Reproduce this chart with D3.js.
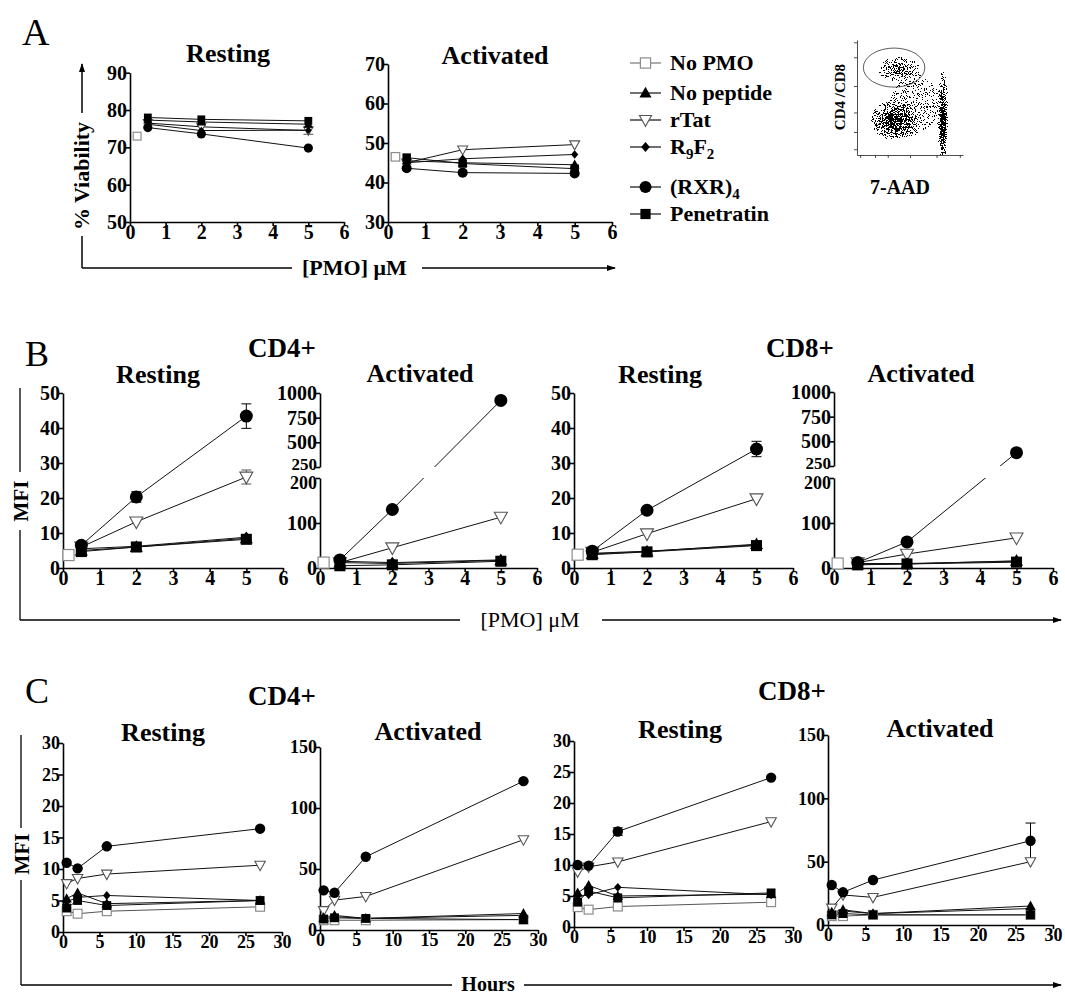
<!DOCTYPE html>
<meta charset="utf-8">
<script src="https://cdn.jsdelivr.net/npm/d3@7"></script>
<style>
  body { margin: 0; background: #fff; }
</style>
<body>
<script>

// ---- data -------------------------------------------------------------
// series keys (legend order) and labels ([text, subscript?] parts)
var legendKeys = ["noPMO", "noPep", "rTat", "r9f2", "rxr", "pen"];
var legendLabels = {
  noPMO: [["No PMO", 0]],
  noPep: [["No peptide", 0]],
  rTat:  [["rTat", 0]],
  r9f2:  [["R", 0], ["9", 1], ["F", 0], ["2", 1]],
  rxr:   [["(RXR)", 0], ["4", 1]],
  pen:   [["Penetratin", 0]]
};
// draw order of markers (last on top)
var drawKeys = ["noPMO", "rTat", "noPep", "r9f2", "rxr", "pen"];

// A: % viability vs [PMO] uM
var aX = [0.5, 2, 5];
var aX0 = [0.2];
var aRest = {noPMO: [73], noPep: [77.3, 76.8, 76.2], rTat: [76.5, 75.5, 74.5],
             r9f2: [76.2, 74.5, 74.6], rxr: [75.3, 73.6, 69.8], pen: [78, 77.5, 77.1]};
var aRestErr = {rTat: [0, 0, 1]};
var aAct = {noPMO: [46.5], noPep: [45.5, 45, 44.5], rTat: [45, 48.3, 49.6],
            r9f2: [45, 46, 47.1], rxr: [43.6, 42.5, 42.3], pen: [46.3, 44.8, 43.5]};

// B: MFI vs [PMO] uM
var bX = [0.5, 2, 5];
var bX0 = [0.15];
var bCD4Rest = {noPMO: [3.7], noPep: [5, 6, 8.5], rTat: [6, 13.2, 26],
                r9f2: [5.5, 6.2, 8.8], rxr: [6.5, 20.3, 43.4], pen: [4.7, 6, 8.2]};
var bCD4RestErr = {rxr: [0, 1.5, 3.5], rTat: [0, 0, 2]};
var bCD4ActX = [0.55, 2, 5];
var bCD4Act = {noPMO: [12], noPep: [12, 10, 17], rTat: [12, 45, 113],
               r9f2: [15, 12, 18], rxr: [18, 130, 925], pen: [5, 7, 15]};
var bCD8Rest = {noPMO: [3.8], noPep: [4, 4.7, 6.8], rTat: [4.5, 9.8, 19.8],
                r9f2: [4.2, 4.8, 6.6], rxr: [4.8, 16.5, 34], pen: [3.8, 4.6, 6.4]};
var bCD8RestErr = {rxr: [0, 0, 2.2]};
var bCD8ActX = [0.65, 2, 5];
var bCD8Act = {noPMO: [10], noPep: [8, 9, 16], rTat: [12, 31, 67],
               r9f2: [10, 10, 15], rxr: [12, 58, 385], pen: [7, 9, 13]};

// C: MFI vs hours
var cX = [0.5, 2, 6, 27];
var cCD4ActX = [0.5, 2, 6.3, 28];
var cCD4Rest = {noPMO: [3.3, 2.9, 3.3, 4], noPep: [5.3, 6.2, 4.5, 5], rTat: [7.7, 8.5, 9.2, 10.6],
                r9f2: [4.8, 5.5, 5.8, 5], rxr: [11, 10.1, 13.6, 16.4], pen: [3.8, 5, 4.2, 5]};
var cCD4Act = {noPMO: [8, 8, 8, 8.5], noPep: [10, 12, 9.5, 13.5], rTat: [16, 24.5, 27.5, 74],
               r9f2: [9, 11, 9.5, 12], rxr: [32.5, 30.5, 60, 122], pen: [9, 10, 9.5, 8.5]};
var cCD8Rest = {noPMO: [3.2, 2.8, 3.3, 4], noPep: [5.5, 6.7, 5, 5.3], rTat: [8.9, 9.7, 10.5, 17],
                r9f2: [5, 5.2, 6.4, 5.2], rxr: [10, 9.9, 15.4, 24.1], pen: [4, 5.8, 4.7, 5.5]};
var cCD8RestErr = {rxr: [0, 0, 0.6, 0]};
var cCD8Act = {noPMO: [7, 7, 8, 8], noPep: [10, 12, 9, 15], rTat: [13.4, 23.7, 21.8, 50],
               r9f2: [8, 11, 9, 13], rxr: [31.6, 25.8, 35.5, 66.5], pen: [8, 9, 8, 8]};
var cCD8ActErr = {rxr: [0, 0, 0, 14]};

// flow cytometry inset (gate + cell populations, in 0..1 plot units)
var flowGate = {cx: 0.35, cy: 0.76, rx: 0.29, ry: 0.17};
var flowPops = [
  {cx: 0.55, cy: 0.45, rx: 0.6,  ry: 0.65, dens: 0.2},    // sparse events
  {cx: 0.39, cy: 0.75, rx: 0.22, ry: 0.11, dens: 0.6},    // gated live CD4/CD8
  {cx: 0.37, cy: 0.3,  rx: 0.26, ry: 0.18, dens: 1},      // live, CD- cells
  {cx: 0.81, cy: 0.33, rx: 0.055, ry: 0.42, dens: 1},     // 7-AAD+ dead cells
  {cx: 0.81, cy: 0.25, rx: 0.035, ry: 0.3,  dens: 1}      // dense core of the dead cells
];
var flowTickX = [0.03, 0.17, 0.29, 0.5, 0.75, 0.97];
var flowTickY = [0.05, 0.2, 0.37, 0.6, 0.85, 0.98];

// ---- layout -----------------------------------------------------------
var svg = d3.select("body").append("svg")
    .attr("width", 1065).attr("height", 996)
    .style("font-family", "'Liberation Serif','Times New Roman',serif");
var defs = svg.append("defs");

defs.append("marker").attr("id", "arr")
    .attr("markerUnits", "userSpaceOnUse").attr("markerWidth", 9).attr("markerHeight", 6)
    .attr("refX", 8).attr("refY", 3).attr("orient", "auto")
  .append("path").attr("d", "M0,0 L9,3 L0,6 z").attr("fill", "#000");

function label(x, y, s, size, bold, anchor) {
  return svg.append("text").attr("x", x).attr("y", y).text(s)
    .attr("font-size", size).attr("font-weight", bold ? "bold" : "normal")
    .attr("text-anchor", anchor || "middle").attr("fill", "#000");
}

function drawMarker(g, k, cx, cy, s) {
  if (k === "rxr") {
    g.append("circle").attr("cx", cx).attr("cy", cy).attr("r", s).attr("fill", "#000");
    return;
  }
  if (k === "pen" || k === "noPMO") {
    var h = s * 0.85;
    var r = g.append("rect").attr("x", cx - h).attr("y", cy - h).attr("width", 2 * h).attr("height", 2 * h);
    if (k === "pen") r.attr("fill", "#000");
    else r.attr("fill", "#fff").attr("stroke", "#8c8c8c").attr("stroke-width", 1.2);
    return;
  }
  var pts;
  if (k === "noPep") pts = [[0, -1.05 * s], [s, 0.75 * s], [-s, 0.75 * s]];
  if (k === "rTat") pts = [[-s, -0.75 * s], [s, -0.75 * s], [0, 1.05 * s]];
  if (k === "r9f2") pts = [[0, -0.85 * s], [0.72 * s, 0], [0, 0.85 * s], [-0.72 * s, 0]];
  var p = g.append("polygon").attr("points", pts.map(function(d) { return (cx + d[0]) + "," + (cy + d[1]); }).join(" "));
  if (k === "rTat") p.attr("fill", "#fff").attr("stroke", "#555").attr("stroke-width", 1.1);
  else p.attr("fill", "#000");
}

var clipN = 0;
function panel(p) {
  var g = svg.append("g");
  var x = d3.scaleLinear().domain(p.xDom).range([p.left, p.right]);
  var y, lo, hi;
  if (p.brk) {
    lo = d3.scaleLinear().domain([0, 200]).range([p.bottom, p.brk[0]]);
    hi = d3.scaleLinear().domain([250, 1000]).range([p.brk[1], p.top]);
    y = function(v) { return v <= 225 ? lo(v) : hi(v); };
  } else {
    y = d3.scaleLinear().domain(p.yDom).range([p.bottom, p.top]);
  }

  function styleAxis(a) {
    a.attr("font-family", null).attr("font-size", p.fs).attr("font-weight", "bold");
    a.selectAll("path, line").attr("stroke", "#000").attr("stroke-width", 1.6);
    a.selectAll("text").attr("fill", "#000");
    return a;
  }
  var fmt = d3.format("d");
  styleAxis(g.append("g").attr("transform", "translate(0," + p.bottom + ")")
    .call(d3.axisBottom(x).tickValues(p.xTicks).tickSize(4).tickSizeOuter(0).tickPadding(-1).tickFormat(fmt)));
  if (p.brk) {
    var la = styleAxis(g.append("g").attr("transform", "translate(" + p.left + ",0)")
      .call(d3.axisLeft(lo).tickValues([0, 100, 200]).tickSize(4).tickSizeOuter(0).tickPadding(-1).tickFormat(fmt)));
    var ha = styleAxis(g.append("g").attr("transform", "translate(" + p.left + ",0)")
      .call(d3.axisLeft(hi).tickValues([250, 500, 750, 1000]).tickSize(4).tickSizeOuter(0).tickPadding(-1).tickFormat(fmt)));
    // the 200 / 250 labels crowd each other at the break: smaller and nudged apart
    la.selectAll(".tick").filter(function(d) { return d === 200; }).select("text")
      .attr("font-size", 18).attr("dy", "0.6em");
    ha.selectAll(".tick").filter(function(d) { return d === 250; }).select("text")
      .attr("font-size", 17).attr("dy", "0.12em");
  } else {
    styleAxis(g.append("g").attr("transform", "translate(" + p.left + ",0)")
      .call(d3.axisLeft(y).tickValues(p.yTicks).tickSize(4).tickSizeOuter(0).tickPadding(-1).tickFormat(fmt)));
  }

  // series lines
  var lines = g.append("g");
  if (p.brk) {
    var id = "clip" + (clipN++);
    var cp = defs.append("clipPath").attr("id", id);
    cp.append("rect").attr("x", p.left - 20).attr("y", p.top - 20)
      .attr("width", p.right - p.left + 40).attr("height", p.brk[1] - p.top + 20);
    cp.append("rect").attr("x", p.left - 20).attr("y", p.brk[0])
      .attr("width", p.right - p.left + 40).attr("height", p.bottom - p.brk[0] + 20);
    lines.attr("clip-path", "url(#" + id + ")");
  }
  function xsFor(k) { return (k === "noPMO" && p.x0) ? p.x0 : p.xs; }
  drawKeys.forEach(function(k) {
    var ys = p.d[k];
    if (!ys || ys.length < 2) return;
    var xs = xsFor(k);
    var pts = ys.map(function(v, i) { return [x(xs[i]), y(v)]; });
    lines.append("path").attr("d", d3.line()(pts))
      .attr("fill", "none").attr("stroke", k === "noPMO" ? "#555" : "#111").attr("stroke-width", 1);
  });

  // error bars
  var err = p.err || {};
  Object.keys(err).forEach(function(k) {
    var xs = xsFor(k);
    err[k].forEach(function(e, i) {
      if (!e) return;
      var v = p.d[k][i], cx = x(xs[i]);
      var col = k === "rTat" ? "#555" : "#000";
      g.append("line").attr("x1", cx).attr("x2", cx).attr("y1", y(v - e)).attr("y2", y(v + e))
        .attr("stroke", col).attr("stroke-width", 1);
      [v - e, v + e].forEach(function(w) {
        g.append("line").attr("x1", cx - 5).attr("x2", cx + 5).attr("y1", y(w)).attr("y2", y(w))
          .attr("stroke", col).attr("stroke-width", 1);
      });
    });
  });

  // markers
  var mk = g.append("g");
  drawKeys.forEach(function(k) {
    var ys = p.d[k];
    if (!ys) return;
    var xs = xsFor(k);
    ys.forEach(function(v, i) { drawMarker(mk, k, x(xs[i]), y(v), p.s); });
  });

  label(p.title[1], p.title[2], p.title[0], 26, true);
}

// ---- panel A -------------------------------------------------------------
label(22, 45, "A", 38, false, "start");
var xt6 = [0, 1, 2, 3, 4, 5, 6];
panel({left: 130, right: 344, top: 72.7, bottom: 222, xDom: [0, 6], yDom: [50, 90],
       xTicks: xt6, yTicks: [50, 60, 70, 80, 90], fs: 20, s: 4.6,
       xs: aX, x0: aX0, d: aRest, err: aRestErr, title: ["Resting", 228, 62]});
panel({left: 388, right: 612, top: 64, bottom: 222, xDom: [0, 6], yDom: [30, 70],
       xTicks: xt6, yTicks: [30, 40, 50, 60, 70], fs: 20, s: 5,
       xs: aX, x0: aX0, d: aAct, title: ["Activated", 495, 64]});

// A frame with axis captions
svg.append("line").attr("x1", 82).attr("y1", 268).attr("x2", 82).attr("y2", 236).attr("stroke", "#000").attr("stroke-width", 1.5);
svg.append("line").attr("x1", 82).attr("y1", 113).attr("x2", 82).attr("y2", 64).attr("stroke", "#000").attr("stroke-width", 1.5).attr("marker-end", "url(#arr)");
label(0, 0, "% Viability", 22, true).attr("transform", "translate(89,176) rotate(-90)");
svg.append("line").attr("x1", 82).attr("y1", 268).attr("x2", 292).attr("y2", 268).attr("stroke", "#000").attr("stroke-width", 1.5);
label(302, 275, "[PMO] \u03bcM", 22, true, "start");
svg.append("line").attr("x1", 422).attr("y1", 268).attr("x2", 615).attr("y2", 268).attr("stroke", "#000").attr("stroke-width", 1.5).attr("marker-end", "url(#arr)");

// legend
var legRowY = [63, 93, 120, 147, 187, 214];
legendKeys.forEach(function(k, i) {
  var ly = legRowY[i];
  svg.append("line").attr("x1", 630).attr("x2", 661).attr("y1", ly).attr("y2", ly)
    .attr("stroke", k === "noPMO" ? "#777" : "#111").attr("stroke-width", 1.2);
  drawMarker(svg, k, 645.5, ly, 6);
  var t = svg.append("text").attr("x", 670).attr("y", ly + 7).attr("font-size", 22)
    .attr("font-weight", "bold").attr("fill", "#000");
  var lastSub = false;
  legendLabels[k].forEach(function(part) {
    if (part[1]) t.append("tspan").attr("font-size", 15).attr("dy", 5).text(part[0]);
    else t.append("tspan").attr("dy", lastSub ? -5 : 0).text(part[0]);
    lastSub = !!part[1];
  });
});

// flow cytometry inset
var fx = d3.scaleLinear().domain([0, 1]).range([857, 963]);
var fy = d3.scaleLinear().domain([0, 1]).range([155, 40]);
var rg = defs.append("radialGradient").attr("id", "popGrad");
rg.append("stop").attr("offset", "0%").attr("stop-color", "#000").attr("stop-opacity", 1);
rg.append("stop").attr("offset", "50%").attr("stop-color", "#000").attr("stop-opacity", 0.5);
rg.append("stop").attr("offset", "100%").attr("stop-color", "#000").attr("stop-opacity", 0);
var fl = defs.append("filter").attr("id", "speckle").attr("filterUnits", "userSpaceOnUse")
  .attr("x", 845).attr("y", 30).attr("width", 130).attr("height", 135);
fl.append("feTurbulence").attr("type", "fractalNoise").attr("baseFrequency", 1.1)
  .attr("numOctaves", 2).attr("seed", 5).attr("result", "noise");
fl.append("feColorMatrix").attr("in", "noise").attr("type", "matrix")
  .attr("values", "0 0 0 0 0  0 0 0 0 0  0 0 0 0 0  3.2 0 0 0 -1.2").attr("result", "na");
fl.append("feComposite").attr("in", "SourceGraphic").attr("in2", "na").attr("operator", "arithmetic")
  .attr("k1", 0).attr("k2", 4).attr("k3", -4).attr("k4", 0).attr("result", "d");
var ct = fl.append("feComponentTransfer").attr("in", "d");
ct.append("feFuncA").attr("type", "discrete").attr("tableValues", "0 1");

var fg = svg.append("g").attr("filter", "url(#speckle)");
flowPops.forEach(function(c) {
  fg.append("ellipse").attr("cx", fx(c.cx)).attr("cy", fy(c.cy))
    .attr("rx", fx(c.rx) - fx(0)).attr("ry", fy(0) - fy(c.ry))
    .attr("fill", "url(#popGrad)").attr("fill-opacity", c.dens);
});
svg.append("rect").attr("x", 800).attr("y", 155).attr("width", 200).attr("height", 30).attr("fill", "#fff");
svg.append("rect").attr("x", 800).attr("y", 30).attr("width", 57).attr("height", 130).attr("fill", "#fff");
svg.append("rect").attr("x", 963).attr("y", 30).attr("width", 40).attr("height", 130).attr("fill", "#fff");
svg.append("ellipse").attr("cx", fx(flowGate.cx)).attr("cy", fy(flowGate.cy))
  .attr("rx", fx(flowGate.rx) - fx(0)).attr("ry", fy(0) - fy(flowGate.ry))
  .attr("fill", "none").attr("stroke", "#333").attr("stroke-width", 0.8);
var fxa = svg.append("g").attr("transform", "translate(0,155)")
  .call(d3.axisBottom(fx).tickValues(flowTickX).tickSize(3).tickSizeOuter(0).tickFormat(""));
var fya = svg.append("g").attr("transform", "translate(857,0)")
  .call(d3.axisLeft(fy).tickValues(flowTickY).tickSize(3).tickSizeOuter(0).tickFormat(""));
[fxa, fya].forEach(function(a) { a.selectAll("path, line").attr("stroke", "#222").attr("stroke-width", 0.8); });
label(0, 0, "CD4 /CD8", 15, true).attr("transform", "translate(845,97) rotate(-90)");
label(900, 194, "7-AAD", 20, true);

// ---- panel B -------------------------------------------------------------
label(25, 366, "B", 36, false, "start");
label(282, 357, "CD4+", 27, true);
label(800, 357, "CD8+", 27, true);
panel({left: 63, right: 283, top: 393, bottom: 568, xDom: [0, 6], yDom: [0, 50],
       xTicks: xt6, yTicks: [0, 10, 20, 30, 40, 50], fs: 20, s: 6.5,
       xs: bX, x0: bX0, d: bCD4Rest, err: bCD4RestErr, title: ["Resting", 158, 383]});
panel({left: 320, right: 537, top: 393, bottom: 568, xDom: [0, 6], brk: [478, 467],
       xTicks: xt6, fs: 20, s: 6.5,
       xs: bCD4ActX, x0: [0.1], d: bCD4Act, title: ["Activated", 420, 382]});
panel({left: 574, right: 793, top: 393, bottom: 568, xDom: [0, 6], yDom: [0, 50],
       xTicks: xt6, yTicks: [0, 10, 20, 30, 40, 50], fs: 20, s: 6.5,
       xs: bX, x0: [0.1], d: bCD8Rest, err: bCD8RestErr, title: ["Resting", 660, 383]});
panel({left: 834, right: 1053, top: 392, bottom: 568, xDom: [0, 6], brk: [478, 466],
       xTicks: xt6, fs: 20, s: 6.5,
       xs: bCD8ActX, x0: [0.1], d: bCD8Act, title: ["Activated", 921, 382]});

svg.append("line").attr("x1", 20).attr("y1", 388).attr("x2", 20).attr("y2", 472).attr("stroke", "#000").attr("stroke-width", 1.3);
svg.append("line").attr("x1", 20).attr("y1", 530).attr("x2", 20).attr("y2", 620).attr("stroke", "#000").attr("stroke-width", 1.3);
label(0, 0, "MFI", 21, true).attr("transform", "translate(28,501) rotate(-90)");
svg.append("line").attr("x1", 20).attr("y1", 620).attr("x2", 460).attr("y2", 620).attr("stroke", "#000").attr("stroke-width", 1.3);
label(530, 627, "[PMO] \u03bcM", 22, false);
svg.append("line").attr("x1", 602).attr("y1", 620).attr("x2", 1061).attr("y2", 620).attr("stroke", "#000").attr("stroke-width", 1.3).attr("marker-end", "url(#arr)");

// ---- panel C -------------------------------------------------------------
label(25, 703, "C", 36, false, "start");
label(282, 705, "CD4+", 27, true);
label(792, 700, "CD8+", 27, true);
var xt30 = [0, 5, 10, 15, 20, 25, 30];
var yt30 = [0, 5, 10, 15, 20, 25, 30];
var yt150 = [0, 50, 100, 150];
panel({left: 63, right: 282, top: 743, bottom: 932, xDom: [0, 30], yDom: [0, 30],
       xTicks: xt30, yTicks: yt30, fs: 18, s: 5.2,
       xs: cX, d: cCD4Rest, title: ["Resting", 163, 741]});
panel({left: 320, right: 538, top: 747, bottom: 930, xDom: [0, 30], yDom: [0, 150],
       xTicks: xt30, yTicks: yt150, fs: 18, s: 5.2,
       xs: cCD4ActX, d: cCD4Act, title: ["Activated", 428, 740]});
panel({left: 574, right: 793, top: 741, bottom: 927, xDom: [0, 30], yDom: [0, 30],
       xTicks: xt30, yTicks: yt30, fs: 18, s: 5.2,
       xs: cX, d: cCD8Rest, err: cCD8RestErr, title: ["Resting", 680, 738]});
panel({left: 828, right: 1053, top: 735, bottom: 925, xDom: [0, 30], yDom: [0, 150],
       xTicks: xt30, yTicks: yt150, fs: 18, s: 5.2,
       xs: cX, d: cCD8Act, err: cCD8ActErr, title: ["Activated", 940, 737]});

svg.append("line").attr("x1", 21).attr("y1", 735).attr("x2", 21).attr("y2", 828).attr("stroke", "#000").attr("stroke-width", 1.3);
svg.append("line").attr("x1", 21).attr("y1", 880).attr("x2", 21).attr("y2", 985).attr("stroke", "#000").attr("stroke-width", 1.3);
label(0, 0, "MFI", 21, true).attr("transform", "translate(29,854) rotate(-90)");
svg.append("line").attr("x1", 21).attr("y1", 985).attr("x2", 452).attr("y2", 985).attr("stroke", "#000").attr("stroke-width", 1.3);
label(488, 991, "Hours", 20, true);
svg.append("line").attr("x1", 524).attr("y1", 985).attr("x2", 1061).attr("y2", 985).attr("stroke", "#000").attr("stroke-width", 1.3).attr("marker-end", "url(#arr)");

</script>
